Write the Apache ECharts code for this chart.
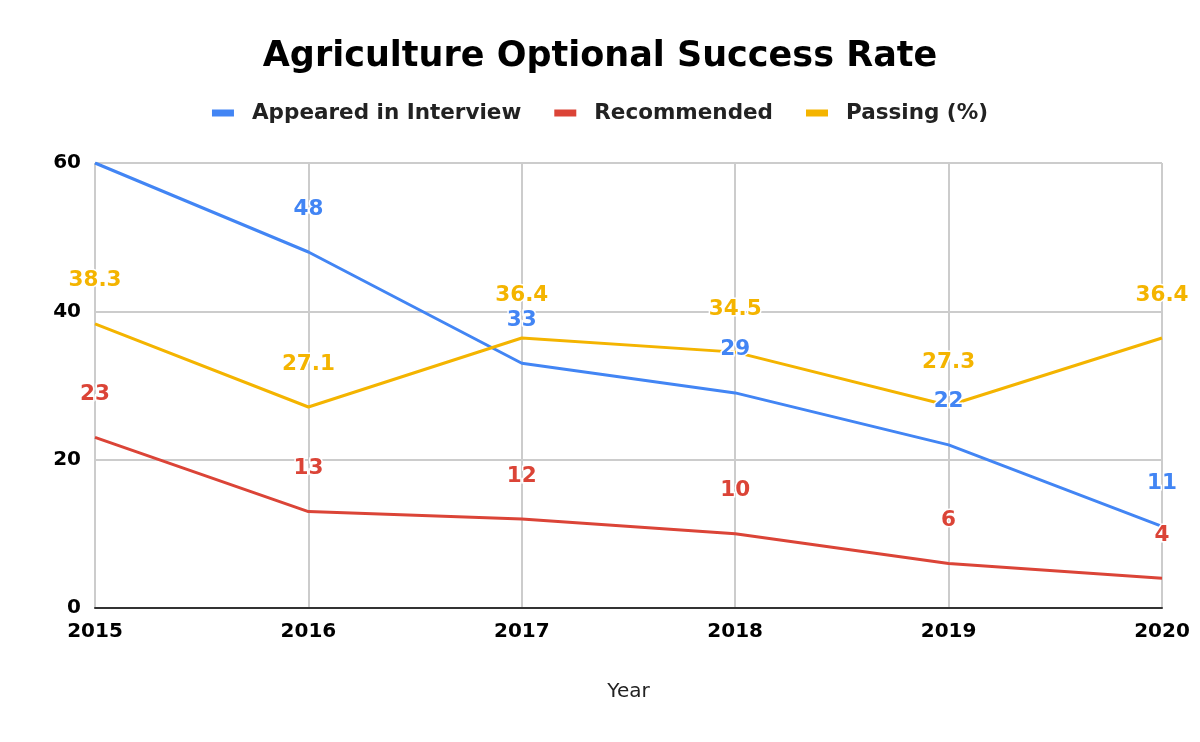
<!DOCTYPE html>
<html><head><meta charset="utf-8">
<script src="https://cdn.jsdelivr.net/npm/echarts@6/dist/echarts.min.js"></script>
<style>html,body{margin:0;padding:0;background:#fff}#c{width:1200px;height:742px}</style>
</head><body><div id="c"></div>
<script>
const years = ['2015','2016','2017','2018','2019','2020'];
const appeared = [60, 48, 33, 29, 22, 11];
const recommended = [23, 13, 12, 10, 6, 4];
const passing = [38.3, 27.1, 36.4, 34.5, 27.3, 36.4];
const yTicks = [0, 20, 40, 60];

const F = 'DejaVu Sans';
const chart = echarts.init(document.getElementById('c'));
function s(name, data, color, hideFirst){
  const d = data.map((v, i) => (hideFirst && i === 0) ? {value: v, label: {show: false}} : v);
  return {name, type:'line', data:d, symbol:'circle', symbolSize:0.1, showSymbol:true, smooth:false,
    lineStyle:{width:3, color}, itemStyle:{color},
    label:{show:true, position:'top', distance:32, color, fontFamily:F, fontWeight:'bold', fontSize:21.5,
      textBorderColor:'#fff', textBorderWidth:3}};
}
chart.setOption({
  backgroundColor:'#fff',
  animation:false,
  title:{text:'Agriculture Optional Success Rate', left:'center', top:34,
    textStyle:{fontFamily:F, fontWeight:'bold', fontSize:35, color:'#000'}},
  legend:{top:97, left:'center', itemWidth:22, itemHeight:7, itemGap:33, icon:'rect',
    textStyle:{fontFamily:F, fontWeight:'bold', fontSize:21.5, color:'#222', padding:[0,0,0,13]},
    data:['Appeared in Interview','Recommended','Passing (%)']},
  grid:{left:95, right:38, top:163, bottom:134},
  xAxis:{type:'category', data:years, boundaryGap:false,
    name:'Year', nameLocation:'middle', nameGap:74,
    nameTextStyle:{fontFamily:F, fontSize:20, color:'#222'},
    axisLine:{lineStyle:{color:'#333', width:2}}, axisTick:{show:false},
    axisLabel:{fontFamily:F, fontWeight:'bold', fontSize:20, color:'#000', margin:14},
    splitLine:{show:true, lineStyle:{color:'#ccc', width:2}}},
  yAxis:{type:'value', min:yTicks[0], max:yTicks[yTicks.length-1], interval:20,
    axisLine:{show:false}, axisTick:{show:false},
    axisLabel:{fontFamily:F, fontWeight:'bold', fontSize:20, color:'#000', margin:14},
    splitLine:{lineStyle:{color:'#ccc', width:2}}},
  series:[s('Appeared in Interview', appeared, '#4285F4', true),
          s('Recommended', recommended, '#DB4437'),
          s('Passing (%)', passing, '#F4B400')]
});
</script></body></html>
